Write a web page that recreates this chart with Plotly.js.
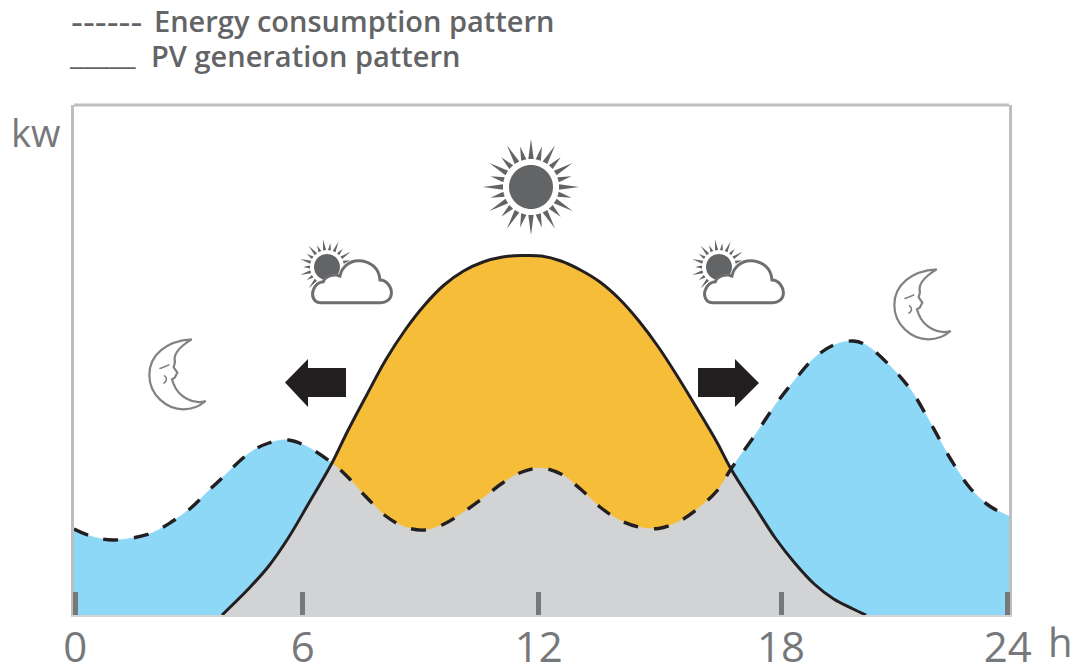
<!DOCTYPE html>
<html><head><meta charset="utf-8">
<script src="https://cdn.plot.ly/plotly-3.0.1.min.js"></script>
<style>html,body{margin:0;padding:0;background:#fff}</style></head>
<body><div id="chart" style="width:1074px;height:669px"></div>
<script>
const hours = [0,0.5,1,1.5,2,2.5,3,3.5,3.8,4.5,5,5.5,6,6.6225,7,7.5,8,8.5,9,9.5,10,10.5,11,11.5,12,12.5,13,13.5,14,14.5,15,15.5,16,16.5,16.8642,17.5,18,18.5,19,19.5,20,20.33,21,21.5,22,22.5,23,23.5,24];
const consumption = [0.86,0.78,0.75,0.77,0.82,0.93,1.07,1.26,1.37,1.62,1.72,1.75,1.68,1.52,1.39,1.18,0.99,0.88,0.85,0.91,1.03,1.17,1.32,1.43,1.47,1.41,1.26,1.08,0.95,0.88,0.865,0.93,1.06,1.24,1.46,1.81,2.10,2.35,2.57,2.70,2.74,2.70,2.47,2.24,1.91,1.56,1.27,1.09,0.99];
const pvGeneration = [null,null,null,null,null,null,null,null,0,0.27,0.49,0.77,1.10,1.52,1.82,2.19,2.55,2.85,3.10,3.30,3.44,3.53,3.58,3.595,3.59,3.54,3.45,3.33,3.16,2.94,2.68,2.38,2.06,1.73,1.46,1.07,0.77,0.52,0.31,0.16,0.06,0,null,null,null,null,null,null,null];
const tickHours = [0.03,5.87,11.93,18.15,23.97];
const tickLabels = ['0','6','12','18','24'];
const crossRise = 6.6225, crossFall = 16.8642;

const BLUE='#8dd7f7', ORANGE='#f6bd38', GREY='#d1d3d4', INK='#231f20', TXT='#636466', AXT='#77787b', ICON='#636466', MOON='#808285';
const L=74,R=1009,T=105,B=615;
const iStart=pvGeneration.indexOf(0), iEnd=pvGeneration.lastIndexOf(0);
const iRise=hours.indexOf(crossRise), iFall=hours.indexOf(crossFall);
const sl=(a,i,j)=>a.slice(i,j+1);
const area=(x,y,c)=>({x,y,type:'scatter',mode:'lines',fill:'tozeroy',fillcolor:c,line:{color:c,width:0.5,shape:'spline',smoothing:1},hoverinfo:'skip',showlegend:false});
const traces=[
 area(hours,consumption,BLUE),
 area(sl(hours,iRise,iFall),sl(pvGeneration,iRise,iFall),ORANGE),
 area(sl(hours,iStart,iRise),sl(pvGeneration,iStart,iRise),GREY),
 area(sl(hours,iRise,iFall),sl(consumption,iRise,iFall),GREY),
 area(sl(hours,iFall,iEnd),sl(pvGeneration,iFall,iEnd),GREY),
 {x:sl(hours,iStart,iEnd),y:sl(pvGeneration,iStart,iEnd),type:'scatter',mode:'lines',name:'PV generation pattern',line:{color:INK,width:3,shape:'spline',smoothing:1},showlegend:false},
 {x:hours,y:consumption,type:'scatter',mode:'lines',name:'Energy consumption pattern',line:{color:INK,width:3.4,dash:'15px,16px',shape:'spline',smoothing:1},showlegend:false}
];
// decorative icons, placed in picture pixels and converted to paper fractions
const px=v=>((v-L)/(R-L)).toFixed(5), py=v=>((B-v)/(B-T)).toFixed(5);
function pathOf(cmds,ox,oy,k){
 return cmds.map(c=>{const o=[c[0]];for(let i=1;i<c.length;i+=2){o.push(px(ox+c[i]*k)+','+py(oy+c[i+1]*k));}return o.join(' ');}).join(' ');
}
const shp=(path,fill,stroke,w)=>({type:'path',xref:'paper',yref:'paper',layer:'above',path,fillcolor:fill,line:{color:stroke,width:w}});
function disc(cx,cy,r){const c=0.5523*r;return pathOf([['M',-r,0],['C',-r,-c,-c,-r,0,-r],['C',c,-r,r,-c,r,0],['C',r,c,c,r,0,r],['C',-c,r,-r,c,-r,0],['Z']],cx,cy,1);}
function sun(cx,cy,r,rin,rL,rS,n,wb){
 const s=[shp(disc(cx,cy,r),ICON,ICON,0)];
 for(let i=0;i<n;i++){const a=2*Math.PI*i/n,ro=i%2?rS:rL,ux=Math.cos(a),uy=Math.sin(a);
  s.push(shp(pathOf([['M',rin*ux-wb*uy,rin*uy+wb*ux],['L',ro*ux,ro*uy],['L',rin*ux+wb*uy,rin*uy-wb*ux],['Z']],cx,cy,1),ICON,ICON,0));}
 return s;
}
const cloudCmd=[['M',90,218],['C',70,218,64,195,70,180],['C',75,165,88,155,100,155],['C',105,140,130,130,150,138],['C',155,110,180,92,205,92],['C',240,92,268,115,270,150],['C',290,150,306,172,304,192],['C',303,208,288,218,272,218],['Z']];
function cloud(ox,oy){return shp(pathOf(cloudCmd,ox,oy,1/3),'#ffffff','#6d6e71',3);}
const moonCmd=[['M',155,28],['C',80,32,28,75,28,135],['C',28,195,80,238,130,238],['C',160,238,182,226,197,213],['C',160,226,115,200,100,160],['L',96,148],['L',104,143],['L',112,128],['L',101,112],['L',105,96],['C',98,72,122,48,155,28],['Z']];
const moonEye=[['M',58,116],['C',68,112,78,110,88,104]];
const moonCheek=[['M',72,136],['C',82,142,82,154,70,160]];
function moon(ox,oy){return [shp(pathOf(moonCmd,ox,oy,1/3),'rgba(0,0,0,0)',MOON,2.2),shp(pathOf(moonEye,ox,oy,1/3),'rgba(0,0,0,0)',MOON,1.5),shp(pathOf(moonCheek,ox,oy,1/3),'rgba(0,0,0,0)',MOON,1.5)];}
const arrowLeft=shp(pathOf([['M',285,382.5],['L',308,359],['L',308,368],['L',346,368],['L',346,397],['L',308,397],['L',308,407],['Z']],0,0,1),INK,INK,0);
const arrowRight=shp(pathOf([['M',759,383],['L',735,359],['L',735,368],['L',698,368],['L',698,397],['L',735,397],['L',735,407],['Z']],0,0,1),INK,INK,0);
const frame=[
 {type:'line',xref:'paper',yref:'paper',x0:0,x1:1,y0:1,y1:1,line:{color:'#bcbec0',width:3},layer:'above'}
];
const shapes=[...frame,
 ...sun(531,187,22,28,48,42,24,2.7),
 ...sun(327,267,13,17,28,24,22,1.5), cloud(290,230),
 ...sun(719,267,13,17,28,24,22,1.5), cloud(682,230),
 ...moon(140,330), ...moon(885,260),
 arrowLeft,arrowRight];
const ann=(text,x,y,size,color,weight,anchor)=>({text,xref:'paper',yref:'paper',x:(x-L)/(R-L),y:(B-y)/(B-T),xanchor:anchor||'left',yanchor:'middle',showarrow:false,font:{family:'"Open Sans",sans-serif',size,color,weight:weight||400},borderpad:0});
const annotations=[
 ann('------',70,21,37,TXT,400),
 ann('Energy consumption pattern',153,21,29,TXT,600),
 ann('_____',68,54,30,TXT,400),
 ann('PV generation pattern',150,56,29,TXT,600),
 ann('kw',10,132,38,AXT,400),
 ann('h',1047,641,40,AXT,400)
];
const layout={width:1074,height:669,autosize:false,margin:{l:L,r:1074-R,t:T,b:669-B,pad:0},paper_bgcolor:'#fff',plot_bgcolor:'#fff',showlegend:false,
 xaxis:{range:[0,24],tickmode:'array',tickvals:tickHours,ticktext:tickLabels,ticks:'inside',ticklen:23,tickwidth:5,tickcolor:AXT,showgrid:false,zeroline:false,showline:true,linecolor:'#d1d3d4',linewidth:2,tickfont:{family:'"Open Sans",sans-serif',size:42,color:AXT},ticklabelstandoff:-5,tickangle:0},
 yaxis:{range:[0,5.1],showticklabels:false,ticks:'',showgrid:false,zeroline:false,showline:true,mirror:true,linecolor:'#bcbec0',linewidth:3},
 shapes,annotations};
Plotly.newPlot('chart',traces,layout,{displayModeBar:false,staticPlot:true});
</script></body></html>
